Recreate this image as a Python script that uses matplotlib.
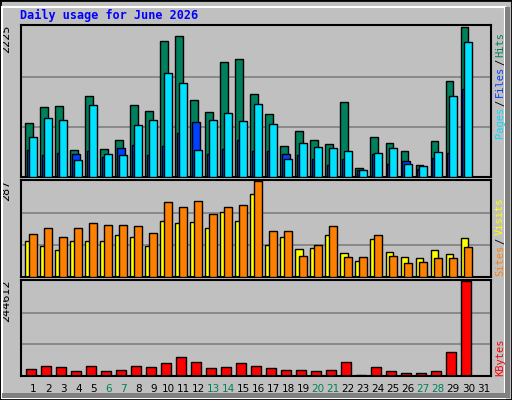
import matplotlib
matplotlib.use("Agg")
import matplotlib.pyplot as plt
import numpy as np
from matplotlib.patches import Rectangle

days = list(range(1, 32))
hits = [801, 1035, 1050, 405, 1196, 420, 552, 1064, 976, 2016, 2089, 1137, 962, 1694, 1738, 1225,
        932, 464, 684, 552, 493, 1108, 127, 596, 508, 391, 171, 537, 1415, 2225, 0]
files = [596, 874, 845, 244, 1064, 347, 318, 771, 845, 1533, 1386, 405, 845, 947, 830, 1079,
         786, 259, 508, 449, 435, 391, 98, 362, 435, 186, 157, 376, 1196, 2001, 0]
pages = [405, 332, 361, 347, 391, 303, 435, 479, 332, 464, 654, 815, 347, 420, 552, 391,
         391, 347, 318, 259, 171, 259, 98, 347, 186, 230, 113, 274, 361, 1298, 0]
visits = [128, 147, 119, 147, 160, 156, 156, 153, 132, 225, 209, 228, 188, 209, 215, 287,
          138, 138, 63, 97, 153, 60, 60, 125, 63, 41, 45, 57, 57, 91, 0]
sites = [107, 94, 82, 107, 107, 107, 125, 119, 94, 166, 160, 163, 147, 194, 166, 247,
         97, 119, 85, 88, 125, 73, 48, 113, 76, 60, 57, 82, 69, 116, 0]
kbytes = [17000, 25000, 22300, 11600, 25000, 11600, 14300, 25000, 22300, 33000, 49100, 35700,
          19600, 22300, 33000, 25000, 19600, 14300, 14300, 11600, 14300, 35700, 3600, 22300,
          11600, 8900, 8900, 11600, 62500, 244612, 0]
weekends = [6, 7, 13, 14, 20, 21, 27, 28]

C_HITS, C_FILES, C_PAGES = "#00805C", "#00E0FF", "#0040FF"
C_SITES, C_VISITS, C_KB = "#FFFF00", "#FF8000", "#FF0000"
GREEN = "#00805C"

W, H = 512, 400
fig = plt.figure(figsize=(W / 100, H / 100), dpi=100)
fig.patch.set_facecolor("#C0C0C0")

# 3D-ish frame
fig.add_artist(Rectangle((0, 0), 1, 1, transform=fig.transFigure, fill=False, edgecolor="black", lw=2))
fig.add_artist(Rectangle((2 / W, 2 / H), 1 - 9 / W, 1 - 9 / H, transform=fig.transFigure,
                         fill=False, edgecolor="white", lw=1.5))
fig.add_artist(Rectangle((W - 7 / 1 - 0, 0), 1, 1, transform=fig.transFigure, visible=False))
fig.add_artist(Rectangle((1 - 7 / W, 2 / H), 5 / W, 1 - 9 / H, transform=fig.transFigure,
                         facecolor="#808080", edgecolor="none"))
fig.add_artist(Rectangle((2 / W, 2 / H), 1 - 4 / W, 5 / H, transform=fig.transFigure,
                         facecolor="#808080", edgecolor="none"))


def px_axes(x0, y0, x1, y1):
    return fig.add_axes([x0 / W, 1 - y1 / H, (x1 - x0) / W, (y1 - y0) / H])


x = np.array(days)


def style(ax, ymax, label):
    ax.set_facecolor("#C0C0C0")
    ax.set_xlim(0.18, 31.5)
    ax.set_ylim(0, ymax * 1.01)
    for g in (ymax / 3, 2 * ymax / 3):
        ax.axhline(g, color="#808080", lw=1.2, zorder=0)
    ax.set_xticks([])
    ax.set_yticks([])
    for s in ax.spines.values():
        s.set_color("black")
        s.set_linewidth(1.5)
    ax.text(-0.032, 1.0, label, transform=ax.transAxes, rotation=90, ha="center", va="top",
            fontsize=8, family="DejaVu Sans")


bw = 0.49
ax1 = px_axes(21, 25, 491, 177)
ax1.bar(x - 0.53, hits, width=bw, align="edge", color=C_HITS, edgecolor="black", lw=1, zorder=2)
ax1.bar(x - 0.40, pages, width=bw, align="edge", color=C_PAGES, edgecolor="black", lw=1, zorder=3)
ax1.bar(x - 0.27, files, width=bw, align="edge", color=C_FILES, edgecolor="black", lw=1, zorder=4)
style(ax1, max(hits), str(max(hits)))

ax2 = px_axes(21, 180, 491, 277)
ax2.bar(x - 0.53, sites, width=bw, align="edge", color=C_SITES, edgecolor="black", lw=1, zorder=2)
ax2.bar(x - 0.27, visits, width=bw, align="edge", color=C_VISITS, edgecolor="black", lw=1, zorder=3)
style(ax2, max(visits), str(max(visits)))

ax3 = px_axes(21, 280, 491, 376)
ax3.bar(x - 0.47, kbytes, width=0.67, align="edge", color=C_KB, edgecolor="black", lw=1, zorder=2)
style(ax3, max(kbytes), str(max(kbytes)))

for d in days:
    fig.text((18.3 + 15 * d) / W, 1 - 389 / H, str(d), ha="center", va="center", fontsize=7.5,
             color=GREEN if d in weekends else "black")

fig.text(20 / W, 1 - 15 / H, "Daily usage for June 2026", ha="left", va="center", fontsize=8.5,
         family="DejaVu Sans Mono", weight="bold", color="#0000FF")


def side_label(parts, y_bottom):
    y = y_bottom
    for txt, col in parts:
        fig.text(500 / W, 1 - y / H, txt, rotation=90, ha="center", va="bottom", fontsize=7.5,
                 family="DejaVu Sans Mono", color=col)
        y -= len(txt) * 6.1 + 2


side_label([("Pages", C_FILES), ("/", "black"), ("Files", C_PAGES), ("/", "black"), ("Hits", C_HITS)], 138)
side_label([("Sites", C_VISITS), ("/", "black"), ("Visits", C_SITES)], 276)
side_label([("KBytes", C_KB)], 376)

fig.savefig("out.png", dpi=100, facecolor=fig.get_facecolor())
